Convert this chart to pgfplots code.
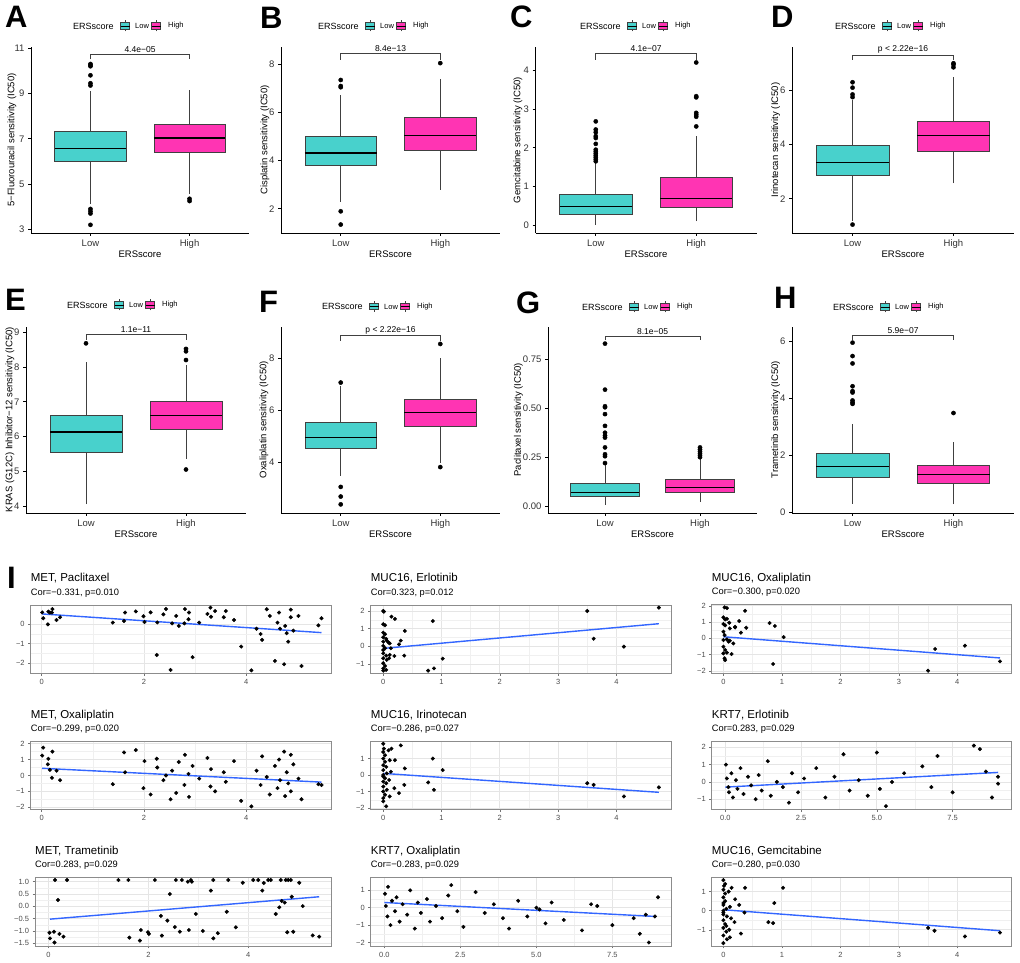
\documentclass[border=0pt]{standalone}
\usepackage{fontspec}
\setmainfont{Liberation Sans}
\usepackage{pgfplots}
\pgfplotsset{compat=1.18}
\usepgfplotslibrary{statistics}
\definecolor{lowc}{HTML}{48D1CC}
\definecolor{highc}{HTML}{FF34B3}
\definecolor{fitc}{HTML}{3366FF}

\pgfplotsset{
  bx/.style={
    scale only axis, height=186pt,
    xmin=0.4, xmax=2.6, xtick={1,2}, xticklabels={Low,High},
    axis x line*=bottom, axis y line*=left,
    axis line style={line width=0.8pt, black},
    tick align=outside, major tick length=3pt,
    tick style={line width=0.8pt, black},
    ticklabel style={font=\fontsize{9.5}{10}\selectfont, text=black!80},
    /pgf/number format/assume math mode=true,
    xlabel={ERSscore},
    xlabel style={font=\fontsize{9.5}{10}\selectfont, yshift=4.5pt},
    clip=false,
    boxplot/draw direction=y,
    boxplot/box extend=0.72, boxplot/whisker extend=0,
    boxplot/every box/.style={draw=black!75, line width=0.7pt},
    boxplot/every whisker/.style={draw=black!75, line width=0.7pt},
    boxplot/every median/.style={draw=black, line width=1.4pt},
  },
  lowbox/.style={fill=lowc, draw=black!75, mark=*, mark size=2.1pt, mark options={fill=black, draw=black}},
  highbox/.style={fill=highc, draw=black!75, mark=*, mark size=2.1pt, mark options={fill=black, draw=black}},
  sc/.style={
    scale only axis, axis background/.style={fill=white},
    axis line style={draw=black!45, line width=0.6pt},
    grid=both, minor tick num=1,
    major grid style={draw=black!10, line width=0.8pt},
    minor grid style={draw=black!6, line width=0.4pt},
    tick align=outside, xtick pos=bottom, ytick pos=left,
    major tick length=2.5pt, minor tick length=0pt,
    tick style={black!55, line width=0.5pt},
    ticklabel style={font=\fontsize{7.5}{8}\selectfont, text=black!70},
    /pgf/number format/assume math mode=true,
  },
  pts/.style={only marks, mark=*, mark size=1.8pt, black},
  fit/.style={no marks, fitc, line width=1.4pt},
}

\newcommand\brk[3]{%
  \draw[black!75, line width=0.6pt] (axis cs:1,#2) -- (axis cs:1,#1) -- (axis cs:2,#1) -- (axis cs:2,#2);
  \node[anchor=south, inner sep=1.5pt, font=\fontsize{8.5}{9}\selectfont] at (axis cs:1.5,#1) {#3};}

\newcommand\legkey[3]{%
  \draw[black!75, line width=0.6pt] (#1,#2-5.5) -- (#1,#2+5.5);
  \filldraw[fill=#3, draw=black!75, line width=0.6pt] (#1-4.5,#2-3.3) rectangle (#1+4.5,#2+3.3);
  \draw[black, line width=0.9pt] (#1-4.5,#2) -- (#1+4.5,#2);}

\newcommand\ersleg[2]{%
  \node[anchor=west, inner sep=0, font=\fontsize{9}{9}\selectfont] at (#1,#2) {ERSscore};
  \legkey{#1+52}{#2}{lowc}
  \node[anchor=west, inner sep=0, font=\fontsize{7.5}{8}\selectfont] at (#1+62,#2) {Low};
  \legkey{#1+83}{#2}{highc}
  \node[anchor=west, inner sep=0, font=\fontsize{7.5}{8}\selectfont] at (#1+95,#2) {High};}

\newcommand\letter[3]{\node[anchor=north west, inner sep=0, font=\fontsize{31}{31}\selectfont\bfseries] at (#1,#2) {#3};}

\newcommand\ylab[3]{\node[rotate=90, inner sep=0, font=\fontsize{9.5}{10}\selectfont] at (#1,#2) {#3};}

\newcommand\sctitle[4]{%
  \node[anchor=base west, inner sep=0, font=\fontsize{11.5}{12}\selectfont] at (#1,#2+23) {#3};
  \node[anchor=base west, inner sep=0, font=\fontsize{9.3}{10}\selectfont] at (#1,#2+9.3) {#4};}

\begin{document}
\begin{tikzpicture}[x=1pt,y=1pt]
\useasboundingbox (0,0) rectangle (1020,963);

% ---------------- boxplots, row 1 ----------------
\begin{axis}[bx, at={(31pt,730pt)}, anchor=south west, width=218pt,
  ymin=2.84, ymax=11.05, ytick={3,5,7,9,11}]
\addplot[lowbox, boxplot prepared={draw position=1, lower whisker=4.1, lower quartile=6.0, median=6.57, upper quartile=7.32, upper whisker=9.1}]
  table[row sep=\\, y index=0]{y\\10.3\\10.25\\10.2\\9.8\\9.45\\9.35\\3.9\\3.8\\3.7\\3.2\\};
\addplot[highbox, boxplot prepared={draw position=2, lower whisker=4.55, lower quartile=6.4, median=7.04, upper quartile=7.63, upper whisker=9.15}]
  table[row sep=\\, y index=0]{y\\4.35\\4.25\\};
\brk{10.72}{10.5}{4.4e−05}
\end{axis}

\begin{axis}[bx, at={(281pt,730pt)}, anchor=south west, width=219pt,
  ymin=1.0, ymax=8.72, ytick={2,4,6,8}]
\addplot[lowbox, boxplot prepared={draw position=1, lower whisker=2.3, lower quartile=3.8, median=4.32, upper quartile=5.0, upper whisker=6.72}]
  table[row sep=\\, y index=0]{y\\7.35\\7.1\\7.05\\1.9\\1.35\\};
\addplot[highbox, boxplot prepared={draw position=2, lower whisker=2.8, lower quartile=4.45, median=5.05, upper quartile=5.8, upper whisker=7.4}]
  table[row sep=\\, y index=0]{y\\8.05\\};
\brk{8.44}{8.2}{8.4e−13}
\end{axis}

\begin{axis}[bx, at={(535.5pt,730pt)}, anchor=south west, width=221pt,
  ymin=-0.2, ymax=4.6, ytick={0,1,2,3,4}]
\addplot[lowbox, boxplot prepared={draw position=1, lower whisker=0.0, lower quartile=0.27, median=0.48, upper quartile=0.8, upper whisker=1.6}]
  table[row sep=\\, y index=0]{y\\2.68\\2.47\\2.4\\2.3\\2.25\\2.1\\1.95\\1.9\\1.85\\1.8\\1.75\\1.7\\1.65\\};
\addplot[highbox, boxplot prepared={draw position=2, lower whisker=0.1, lower quartile=0.45, median=0.69, upper quartile=1.23, upper whisker=2.3}]
  table[row sep=\\, y index=0]{y\\4.2\\3.33\\3.3\\2.9\\2.85\\2.8\\2.55\\};
\brk{4.43}{4.27}{4.1e−07}
\end{axis}

\begin{axis}[bx, at={(792pt,730pt)}, anchor=south west, width=222pt,
  ymin=0.74, ymax=7.6, ytick={2,4,6}]
\addplot[lowbox, boxplot prepared={draw position=1, lower whisker=1.2, lower quartile=2.86, median=3.35, upper quartile=3.96, upper whisker=5.65}]
  table[row sep=\\, y index=0]{y\\6.3\\6.1\\5.85\\5.75\\1.05\\};
\addplot[highbox, boxplot prepared={draw position=2, lower whisker=2.57, lower quartile=3.74, median=4.33, upper quartile=4.87, upper whisker=6.5}]
  table[row sep=\\, y index=0]{y\\7.0\\6.95\\6.85\\};
\brk{7.31}{7.13}{p < 2.22e−16}
\end{axis}

% ---------------- boxplots, row 2 ----------------
\begin{axis}[bx, at={(26pt,450pt)}, anchor=south west, width=220pt,
  ymin=3.8, ymax=9.15, ytick={4,5,6,7,8,9}]
\addplot[lowbox, boxplot prepared={draw position=1, lower whisker=4.05, lower quartile=5.53, median=6.13, upper quartile=6.61, upper whisker=8.13}]
  table[row sep=\\, y index=0]{y\\8.68\\};
\addplot[highbox, boxplot prepared={draw position=2, lower whisker=5.35, lower quartile=6.21, median=6.6, upper quartile=7.0, upper whisker=8.05}]
  table[row sep=\\, y index=0]{y\\8.52\\8.45\\8.2\\5.05\\};
\brk{8.93}{8.78}{1.1e−11}
\end{axis}

\begin{axis}[bx, at={(281pt,450pt)}, anchor=south west, width=219pt,
  ymin=2.07, ymax=9.2, ytick={4,6,8}]
\addplot[lowbox, boxplot prepared={draw position=1, lower whisker=3.5, lower quartile=4.55, median=4.96, upper quartile=5.54, upper whisker=6.95}]
  table[row sep=\\, y index=0]{y\\7.07\\3.07\\2.7\\2.4\\};
\addplot[highbox, boxplot prepared={draw position=2, lower whisker=4.0, lower quartile=5.38, median=5.92, upper quartile=6.44, upper whisker=8.0}]
  table[row sep=\\, y index=0]{y\\8.55\\3.83\\};
\brk{8.87}{8.68}{p < 2.22e−16}
\end{axis}

\begin{axis}[bx, at={(548pt,450pt)}, anchor=south west, width=209pt,
  ymin=-0.035, ymax=0.915, ytick={0,0.25,0.5,0.75}, yticklabels={0.00,0.25,0.50,0.75}]
\addplot[lowbox, boxplot prepared={draw position=1, lower whisker=0.005, lower quartile=0.051, median=0.071, upper quartile=0.117, upper whisker=0.21}]
  table[row sep=\\, y index=0]{y\\0.83\\0.595\\0.51\\0.505\\0.47\\0.41\\0.375\\0.36\\0.35\\0.30\\0.265\\0.255\\0.22\\};
\addplot[highbox, boxplot prepared={draw position=2, lower whisker=0.02, lower quartile=0.068, median=0.096, upper quartile=0.135, upper whisker=0.24}]
  table[row sep=\\, y index=0]{y\\0.30\\0.29\\0.28\\0.27\\0.26\\0.25\\};
\brk{0.87}{0.848}{8.1e−05}
\end{axis}

\begin{axis}[bx, at={(792pt,450pt)}, anchor=south west, width=222pt,
  ymin=-0.03, ymax=6.5, ytick={0,2,4,6}]
\addplot[lowbox, boxplot prepared={draw position=1, lower whisker=0.3, lower quartile=1.21, median=1.61, upper quartile=2.05, upper whisker=3.1}]
  table[row sep=\\, y index=0]{y\\5.95\\5.48\\5.22\\4.42\\4.25\\4.2\\3.92\\3.85\\3.8\\};
\addplot[highbox, boxplot prepared={draw position=2, lower whisker=0.27, lower quartile=1.02, median=1.32, upper quartile=1.63, upper whisker=2.45}]
  table[row sep=\\, y index=0]{y\\3.48\\};
\brk{6.21}{6.06}{5.9e−07}
\end{axis}

\ylab{12}{823}{5−Fluorouracil sensitivity (IC50)}
\ylab{265}{823}{Cisplatin sensitivity (IC50)}
\ylab{518}{823}{Gemcitabine sensitivity (IC50)}
\ylab{775.7}{823}{Irinotecan sensitivity (IC50)}
\ylab{10}{543.3}{KRAS (G12C) Inhibitor−12 sensitivity (IC50)}
\ylab{264}{543.3}{Oxaliplatin sensitivity (IC50)}
\ylab{518.3}{543.3}{Paclitaxel sensitivity (IC50)}
\ylab{775.7}{543.3}{Trametinib sensitivity (IC50)}

\ersleg{73}{937}
\ersleg{318}{937}
\ersleg{580}{937}
\ersleg{835}{937}
\ersleg{67}{658}
\ersleg{322}{656.5}
\ersleg{582}{656}
\ersleg{833}{656}

\letter{5}{957}{A}
\letter{260}{956}{B}
\letter{510}{957}{C}
\letter{771}{957}{D}
\letter{5}{674}{E}
\letter{259}{672}{F}
\letter{516}{671}{G}
\letter{774}{676}{H}

% ---------------- scatter plots ----------------
\letter{7}{396}{I}

\begin{axis}[sc, at={(30.7pt,289.7pt)}, anchor=south west, width=301pt, height=68.3pt,
  xmin=-0.215, xmax=5.67, ymin=-2.51, ymax=0.966, xtick={0,2,4}, ytick={-2,-1,0}, yticklabels={−2,−1,0}]
\addplot[pts] coordinates {(0.01,0.59)(0.03,0.29)(0.12,-0.02)(0.13,0.63)(0.16,0.58)(0.2,0.58)(0.21,0.76)(0.29,0.2)(0.36,0.34)
(1.39,0.07)(1.61,0.15)(1.63,0.58)(1.84,0.64)(1.99,0.39)(2.01,0.1)(2.13,0.59)(2.26,0.08)(2.25,-1.58)(2.38,0.49)(2.43,0.76)
(2.52,-2.34)(2.55,0.03)(2.63,0.41)(2.68,-0.1)(2.79,0.03)(2.8,0.76)(2.87,0.24)(2.88,0.58)(2.95,-1.69)(3.08,0.07)(3.24,0.51)
(3.3,0.83)(3.31,0.37)(3.39,0.66)(3.56,0.34)(3.6,0.66)(3.76,0.2)(3.9,-1.15)(4.1,-2.36)(4.2,-0.24)(4.28,-0.51)(4.31,-0.81)
(4.4,0.75)(4.46,0.41)(4.56,-1.88)(4.61,0.07)(4.64,0.58)(4.66,-0.24)(4.74,-2.05)(4.76,-0.1)(4.79,-0.47)(4.82,-0.9)(4.87,0.34)
(4.87,0.73)(4.92,-0.34)(5.02,0.41)(5.08,-2.14)(5.41,-0.07)(5.47,0.29)};
\addplot[fit] coordinates {(0.01,0.51)(5.47,-0.44)};
\end{axis}
\sctitle{30.7}{358}{MET, Paclitaxel}{Cor=−0.331, p=0.010}

\begin{axis}[sc, at={(370.7pt,289.7pt)}, anchor=south west, width=301pt, height=68.3pt,
  xmin=-0.216, xmax=4.95, ymin=-1.53, ymax=2.34, xtick={0,1,2,3,4}, ytick={-1,0,1,2}, yticklabels={−1,0,1,2}]
\addplot[pts] coordinates {(0,2.0)(0.01,1.96)(0,1.25)(0.03,1.19)(0,0.77)(0.03,0.68)(0,0.51)(0.05,0.42)(0,0.26)(0.06,0.32)
(0,0.02)(0.03,-0.11)(0,-0.4)(0.05,-0.53)(0,-0.68)(0.06,-0.77)(0,-0.96)(0.03,-1.11)(0,-1.25)(0,-1.38)(0.05,-1.34)
(0.09,0.21)(0.11,0.17)(0.13,-0.11)(0.1,-0.68)(0.14,1.68)(0.2,1.55)(0.19,-0.55)(0.27,0.11)(0.3,0.32)(0.37,0.87)(0.36,-0.53)
(0.85,1.43)(0.77,-1.38)(0.87,-1.25)(1.02,-0.7)(3.5,2.0)(3.61,0.43)(4.13,-0.02)(4.73,2.19)(0,-0.21)(0.11,-0.49)};
\addplot[fit] coordinates {(0,-0.12)(4.73,1.28)};
\end{axis}
\sctitle{370.7}{358}{MUC16, Erlotinib}{Cor=0.323, p=0.012}

\begin{axis}[sc, at={(711.7pt,289.7pt)}, anchor=south west, width=300pt, height=69pt,
  xmin=-0.2, xmax=4.93, ymin=-2.14, ymax=2.09, xtick={0,1,2,3,4}, ytick={-2,-1,0,1,2}, yticklabels={−2,−1,0,1,2}]
\addplot[pts] coordinates {(0.02,1.9)(0.06,1.86)(0,1.29)(0.03,1.16)(0.06,1.2)(0,0.88)(0.03,0.8)(0.1,0.96)(0.2,0.67)(0,0.41)
(0.02,0.2)(0.11,0.61)(0.3,0.35)(0.27,1.06)(0.37,1.69)(0.39,0.65)(0,-0.1)(0.06,-0.06)(0.11,-0.14)(0.17,-0.31)(0,-0.51)
(0.03,-0.71)(0,-0.92)(0.06,-0.88)(0.02,-1.22)(0.03,-1.33)(0.14,-0.96)(0.09,-0.2)(0.2,0.71)(0.79,0.94)(0.88,0.76)
(0.85,-1.57)(1.03,0.08)(3.5,-1.98)(3.62,-0.65)(4.13,-0.45)(4.73,-1.41)};
\addplot[fit] coordinates {(0,0.1)(4.73,-1.2)};
\end{axis}
\sctitle{711.7}{358.7}{MUC16, Oxaliplatin}{Cor=−0.300, p=0.020}

% row 2
\begin{axis}[sc, at={(30.7pt,153.4pt)}, anchor=south west, width=301pt, height=68.3pt,
  xmin=-0.215, xmax=5.67, ymin=-2.15, ymax=2.15, xtick={0,2,4}, ytick={-2,-1,0,1,2}, yticklabels={−2,−1,0,1,2}]
\addplot[pts] coordinates {(0.01,1.25)(0.03,1.75)(0.12,0.7)(0.13,1.05)(0.16,0.35)(0.2,-0.15)(0.21,1.5)(0.29,0.3)(0.36,-0.3)
(1.39,-0.55)(1.61,1.45)(1.63,0.2)(1.84,1.6)(1.99,-0.8)(2.01,0.9)(2.13,-1.2)(2.26,0.5)(2.25,1.05)(2.38,-0.3)(2.43,0.0)
(2.52,-1.5)(2.55,0.3)(2.63,-1.1)(2.68,0.85)(2.79,-0.6)(2.8,1.3)(2.87,0.1)(2.88,-1.35)(2.95,0.6)(3.08,-0.2)(3.24,1.1)
(3.3,-0.7)(3.31,0.4)(3.39,-1.0)(3.56,0.2)(3.6,-0.4)(3.76,0.9)(3.9,-1.6)(4.1,-1.95)(4.2,0.3)(4.28,-0.6)(4.31,1.2)
(4.4,-0.1)(4.46,-1.2)(4.56,0.6)(4.61,-0.8)(4.64,1.0)(4.66,-0.3)(4.74,1.5)(4.76,-1.3)(4.79,0.2)(4.82,-0.5)(4.87,1.3)
(4.87,-1.0)(4.92,0.7)(5.02,-0.2)(5.08,-1.5)(5.41,-0.55)(5.47,-0.6)};
\addplot[fit] coordinates {(0.01,0.45)(5.47,-0.42)};
\end{axis}
\sctitle{30.7}{221.7}{MET, Oxaliplatin}{Cor=−0.299, p=0.020}

\begin{axis}[sc, at={(370.7pt,153.4pt)}, anchor=south west, width=301pt, height=68.3pt,
  xmin=-0.216, xmax=4.95, ymin=-2.1, ymax=2.05, xtick={0,1,2,3,4}, ytick={-2,-1,0,1}, yticklabels={−2,−1,0,1}]
\addplot[pts] coordinates {(0,1.9)(0.01,1.6)(0,1.4)(0.03,1.2)(0,1.0)(0.03,0.8)(0,0.6)(0.05,0.5)(0,0.3)(0.06,0.1)
(0,0.0)(0.03,-0.2)(0,-0.4)(0.05,-0.5)(0,-0.7)(0.06,-0.9)(0,-1.0)(0.03,-1.2)(0,-1.4)(0,-1.6)(0.05,-1.9)
(0.09,1.5)(0.11,0.9)(0.13,0.2)(0.1,-0.3)(0.14,1.6)(0.2,0.9)(0.19,-0.8)(0.27,-1.1)(0.3,1.8)(0.37,0.4)(0.36,-0.6)
(0.85,1.0)(0.77,-0.45)(0.87,-0.9)(1.02,0.3)(3.5,-0.5)(3.61,-0.6)(4.13,-1.3)(4.73,-0.75)(0,-0.1)(0.11,-1.3)};
\addplot[fit] coordinates {(0,0.1)(4.73,-1.05)};
\end{axis}
\sctitle{370.7}{221.7}{MUC16, Irinotecan}{Cor=−0.286, p=0.027}

\begin{axis}[sc, at={(711.7pt,153.4pt)}, anchor=south west, width=300pt, height=68.3pt,
  xmin=-0.45, xmax=9.45, ymin=-1.6, ymax=2.35, xtick={0,2.5,5,7.5}, xticklabels={0.0,2.5,5.0,7.5}, ytick={-1,0,1,2}, yticklabels={−1,0,1,2}]
\addplot[pts] coordinates {(0.02,1.0)(0.05,0.2)(0.1,-0.3)(0.12,-0.6)(0.2,0.5)(0.25,-0.9)(0.35,0.1)(0.4,-0.4)(0.5,0.8)
(0.6,-0.7)(0.75,0.3)(0.85,-0.2)(1.0,-1.0)(1.1,0.4)(1.2,-0.5)(1.4,1.2)(1.5,-0.8)(1.7,0.0)(1.9,-0.3)(2.1,-1.2)(2.2,0.5)
(2.4,-0.6)(2.6,0.2)(3.0,0.8)(3.3,-0.9)(3.6,0.3)(3.9,1.6)(4.1,-0.5)(4.4,0.1)(4.7,-0.8)(5.0,1.7)(5.1,-0.4)(5.3,-1.4)
(5.5,0.0)(5.9,0.5)(6.5,0.9)(6.8,-0.3)(7.0,1.5)(7.5,-0.6)(8.2,2.1)(8.4,1.9)(8.6,0.6)(8.8,-0.9)(9.0,0.3)(9.0,-0.1)};
\addplot[fit] coordinates {(0,-0.3)(9.0,0.55)};
\end{axis}
\sctitle{711.7}{221.7}{KRT7, Erlotinib}{Cor=0.283, p=0.029}

% row 3
\begin{axis}[sc, at={(35pt,17pt)}, anchor=south west, width=296.7pt, height=68.7pt,
  xmin=-0.27, xmax=5.67, ymin=-1.61, ymax=1.18, xtick={0,2,4}, ytick={-1.5,-1,-0.5,0,0.5,1},
  yticklabels={−1.5,−1.0,−0.5,0.0,0.5,1.0}]
\addplot[pts] coordinates {(0.02,-1.07)(0.03,-1.3)(0.11,-1.03)(0.13,1.07)(0.12,-1.47)(0.19,0.26)(0.22,-1.12)(0.3,-1.23)
(0.37,1.07)(1.4,1.07)(1.6,1.07)(1.62,-1.27)(1.83,-1.39)(1.85,-0.96)(1.99,-1.05)(2.01,-1.12)(2.13,1.07)(2.25,-0.39)
(2.27,-1.19)(2.38,-0.58)(2.43,0.5)(2.53,-0.84)(2.55,1.07)(2.63,-1.03)(2.67,1.07)(2.79,1.0)(2.85,1.07)(2.87,1.0)
(2.81,-0.96)(2.95,-0.31)(3.09,-1.0)(3.25,0.64)(3.3,1.07)(3.3,-1.3)(3.39,-1.09)(3.57,-0.22)(3.6,1.07)(3.75,-0.85)
(3.89,0.96)(4.1,1.07)(4.2,1.07)(4.28,0.64)(4.31,0.95)(4.4,1.07)(4.45,1.07)(4.55,-0.31)(4.62,-0.04)(4.65,1.07)
(4.67,0.22)(4.73,0.15)(4.75,1.07)(4.8,1.07)(4.78,-1.05)(4.85,1.07)(4.87,0.39)(4.9,-1.03)(5.02,0.96)(5.09,0.01)
(5.29,-1.18)(5.42,-1.23)};
\addplot[fit] coordinates {(0.03,-0.52)(5.42,0.39)};
\end{axis}
\sctitle{35}{85.7}{MET, Trametinib}{Cor=0.283, p=0.029}

\begin{axis}[sc, at={(370.7pt,17pt)}, anchor=south west, width=301pt, height=68.7pt,
  xmin=-0.45, xmax=9.45, ymin=-2.2, ymax=1.75, xtick={0,2.5,5,7.5}, xticklabels={0.0,2.5,5.0,7.5}, ytick={-2,-1,0,1}, yticklabels={−2,−1,0,1}]
\addplot[pts] coordinates {(0.02,0.8)(0.05,0.1)(0.1,-0.5)(0.12,1.2)(0.2,-1.0)(0.25,0.4)(0.35,-0.2)(0.4,0.6)(0.5,-0.8)
(0.6,0.2)(0.75,-0.4)(0.85,1.0)(1.0,-1.2)(1.1,0.3)(1.2,-0.3)(1.4,0.5)(1.5,-0.8)(1.7,0.1)(1.9,-0.6)(2.1,0.7)(2.2,1.3)
(2.4,-0.2)(2.6,-1.1)(3.0,0.9)(3.3,-0.3)(3.6,0.2)(3.9,-0.6)(4.1,-1.2)(4.4,0.4)(4.7,-0.5)(5.0,0.0)(5.1,-0.1)(5.3,-0.9)
(5.5,0.3)(5.9,-0.7)(6.5,-1.3)(6.8,0.2)(7.0,0.1)(7.5,-1.0)(8.2,-0.6)(8.4,-1.5)(8.6,-0.4)(8.7,-2.0)(8.9,-0.5)(9.0,0.6)};
\addplot[fit] coordinates {(0,0.3)(8.9,-0.5)};
\end{axis}
\sctitle{370.7}{85.7}{KRT7, Oxaliplatin}{Cor=−0.283, p=0.029}

\begin{axis}[sc, at={(711.7pt,17pt)}, anchor=south west, width=300pt, height=68.7pt,
  xmin=-0.2, xmax=4.93, ymin=-1.85, ymax=1.75, xtick={0,1,2,3,4}, ytick={-1,0,1}, yticklabels={−1,0,1}]
\addplot[pts] coordinates {(0,1.6)(0.01,1.3)(0,1.1)(0.03,0.9)(0,0.7)(0.03,0.5)(0,0.3)(0.05,0.1)(0,-0.1)(0.06,-0.3)
(0,-0.5)(0.03,-0.7)(0,-0.9)(0.05,-1.1)(0,-1.3)(0.06,-1.5)(0,-1.7)(0.03,1.4)(0,-0.2)(0,0.4)(0.05,-0.8)
(0.09,1.0)(0.11,0.2)(0.13,-0.4)(0.1,-1.0)(0.14,1.2)(0.2,0.6)(0.19,-0.6)(0.27,0.3)(0.3,-1.2)(0.37,1.2)(0.36,-0.1)
(0.85,-0.65)(0.77,-0.6)(0.87,0.4)(1.02,1.2)(3.5,-0.9)(3.61,-1.05)(4.13,-1.35)(4.73,-1.15)(0,0.0)(0.11,-1.4)};
\addplot[fit] coordinates {(0,0.05)(4.73,-1.05)};
\end{axis}
\sctitle{711.7}{85.7}{MUC16, Gemcitabine}{Cor=−0.280, p=0.030}

\end{tikzpicture}
\end{document}
